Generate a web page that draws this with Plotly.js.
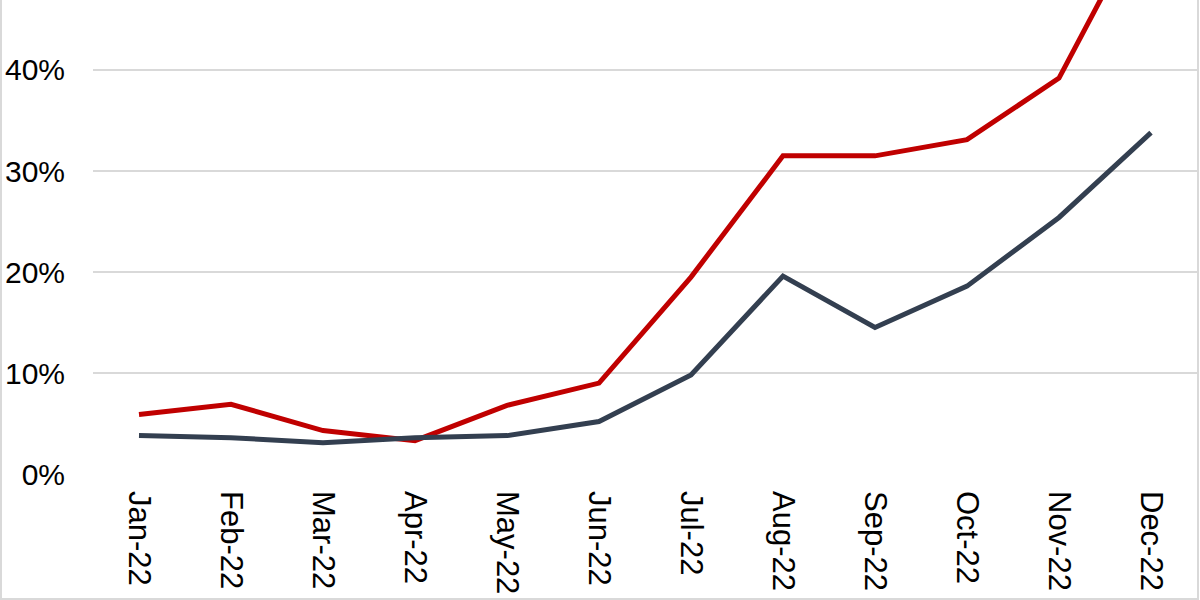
<!DOCTYPE html>
<html>
<head>
<meta charset="utf-8">
<script src="https://cdn.plot.ly/plotly-3.0.1.min.js"></script>
<style>
  html, body { margin: 0; padding: 0; background: #ffffff; }
  #wrap { position: relative; width: 1200px; height: 600px; overflow: hidden; }
  #chart { position: absolute; left: 0; top: 0; width: 1200px; height: 600px; }
  #frame { position: absolute; left: 0; top: -10px; width: 1195px; height: 606px;
           border: 2px solid #d9d9d9; pointer-events: none; }
</style>
</head>
<body>
<div id="wrap">
  <div id="chart"></div>
  <div id="frame"></div>
</div>
<script>
// Data
const months = ["Jan-22", "Feb-22", "Mar-22", "Apr-22", "May-22", "Jun-22",
                "Jul-22", "Aug-22", "Sep-22", "Oct-22", "Nov-22", "Dec-22"];
const redSeries  = [0.059, 0.069, 0.043, 0.033, 0.068, 0.090, 0.195, 0.315, 0.315, 0.331, 0.392, 0.564];
const blueSeries = [0.038, 0.036, 0.031, 0.036, 0.038, 0.052, 0.098, 0.196, 0.145, 0.186, 0.254, 0.338];
const yTickVals  = [0, 0.1, 0.2, 0.3, 0.4];

const traces = [
  {
    x: months, y: redSeries, type: "scatter", mode: "lines",
    line: { color: "#C00000", width: 5, shape: "linear" },
    hoverinfo: "skip", showlegend: false
  },
  {
    x: months, y: blueSeries, type: "scatter", mode: "lines",
    line: { color: "#333F50", width: 5, shape: "linear" },
    hoverinfo: "skip", showlegend: false
  }
];

const layout = {
  width: 1200, height: 600,
  margin: { l: 93, r: 3, t: 0, b: 126 },
  paper_bgcolor: "#ffffff", plot_bgcolor: "#ffffff",
  font: { family: "Liberation Sans, Arial, sans-serif", size: 31, color: "#000000" },
  showlegend: false,
  xaxis: {
    type: "category",
    range: [-0.5, 11.5],
    tickangle: 90,
    ticks: "",
    showgrid: false,
    showline: false,
    zeroline: false,
    ticklabelstandoff: 16,
    tickfont: { size: 31, color: "#000000" }
  },
  yaxis: {
    range: [0, 0.4693],
    tickvals: yTickVals,
    tickformat: ".0%",
    ticks: "",
    showgrid: true,
    gridcolor: "#d9d9d9",
    gridwidth: 1.5,
    zeroline: false,
    showline: false,
    ticklabelstandoff: 27,
    tickfont: { size: 30, color: "#000000" }
  }
};

Plotly.newPlot("chart", traces, layout, { staticPlot: true, displayModeBar: false });
</script>
</body>
</html>
